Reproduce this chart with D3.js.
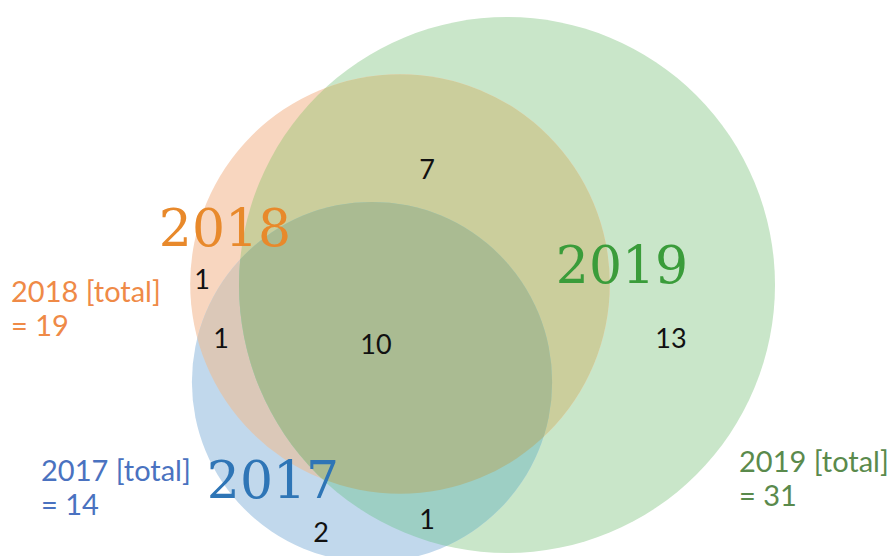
<!DOCTYPE html>
<html>
<head>
<meta charset="utf-8">
<script src="https://cdn.jsdelivr.net/npm/d3@7"></script>
<style>
  html, body { margin: 0; padding: 0; background: #fff; }
  svg { display: block; }
</style>
</head>
<body>
<script>
// ---- data ----
const sets = ["2017", "2018", "2019"];
const setTotals = [14, 19, 31];
const regionSets = [["2018"], ["2017", "2018"], ["2017", "2018", "2019"], ["2018", "2019"], ["2019"], ["2017"], ["2017", "2019"]];
const regionCounts = [1, 1, 10, 7, 13, 2, 1];
const totalLabelLines = ["[total]", "= "];

// ---- layout & style ----
const W = 891, H = 556;
const centers = { "2017": [372, 382], "2018": [400, 284], "2019": [507, 285] };
const setColors = { "2017": "#c1d8ec", "2018": "#f8d6bf", "2019": "#c9e6c9" };
const titleColors = { "2017": "#2e75b6", "2018": "#e8892b", "2019": "#3a9c3a" };
const totalColors = { "2017": "#4a72c0", "2018": "#ef8a47", "2019": "#5a8a4c" };
const titlePos = { "2017": [273, 498], "2018": [225, 246], "2019": [622, 283] };
const totalPos = { "2017": [41, 481], "2018": [11, 302], "2019": [739, 472] };
const overlapColors = {
  "2017,2018": "#dbc8b8",
  "2018,2019": "#cbce9c",
  "2017,2019": "#9dcfc4",
  "2017,2018,2019": "#aabb92"
};
const regionPos = [[202, 278], [221, 337], [376, 343], [427, 168], [671, 337], [321, 531], [427, 518]];

const rScale = d3.scaleSqrt().domain([0, d3.max(setTotals)]).range([0, 268]);

const svg = d3.select("body").append("svg").attr("width", W).attr("height", H);
const defs = svg.append("defs");
sets.forEach((s, i) => {
  defs.append("clipPath").attr("id", "clip-" + s)
    .append("circle")
    .attr("cx", centers[s][0]).attr("cy", centers[s][1])
    .attr("r", rScale(setTotals[i]));
});

const circleLayer = svg.append("g");
// base circles (largest first)
const order = ["2019", "2018", "2017"];
order.forEach(s => {
  const i = sets.indexOf(s);
  circleLayer.append("circle")
    .attr("cx", centers[s][0]).attr("cy", centers[s][1])
    .attr("r", rScale(setTotals[i]))
    .attr("fill", setColors[s]);
});
// overlaps
Object.keys(overlapColors).forEach(key => {
  const ss = key.split(",");
  let g = circleLayer;
  for (let k = 1; k < ss.length; k++) {
    g = g.append("g").attr("clip-path", `url(#clip-${ss[k]})`);
  }
  const s0 = ss[0], i0 = sets.indexOf(s0);
  g.append("circle")
    .attr("cx", centers[s0][0]).attr("cy", centers[s0][1])
    .attr("r", rScale(setTotals[i0]))
    .attr("fill", overlapColors[key]);
});

// set titles
sets.forEach(s => {
  svg.append("text")
    .attr("x", titlePos[s][0]).attr("y", titlePos[s][1])
    .attr("text-anchor", "middle")
    .attr("font-family", "'DejaVu Serif', serif")
    .attr("font-size", 52)
    .attr("fill", titleColors[s])
    .text(s);
});

// total labels
sets.forEach((s, i) => {
  const t = svg.append("text")
    .attr("x", totalPos[s][0]).attr("y", totalPos[s][1])
    .attr("font-family", "Lato, 'Open Sans', sans-serif")
    .attr("font-size", 29)
    .attr("fill", totalColors[s]);
  t.append("tspan").attr("x", totalPos[s][0]).text(s + " " + totalLabelLines[0]);
  t.append("tspan").attr("x", totalPos[s][0]).attr("dy", 34).text(totalLabelLines[1] + setTotals[i]);
});

// region counts
regionCounts.forEach((c, i) => {
  svg.append("text")
    .attr("x", regionPos[i][0]).attr("y", regionPos[i][1])
    .attr("text-anchor", "middle")
    .attr("dominant-baseline", "central")
    .attr("font-family", "Lato, 'Open Sans', sans-serif")
    .attr("font-size", 27)
    .attr("fill", "#111")
    .attr("data-sets", regionSets[i].join("&"))
    .text(c);
});
</script>
</body>
</html>
